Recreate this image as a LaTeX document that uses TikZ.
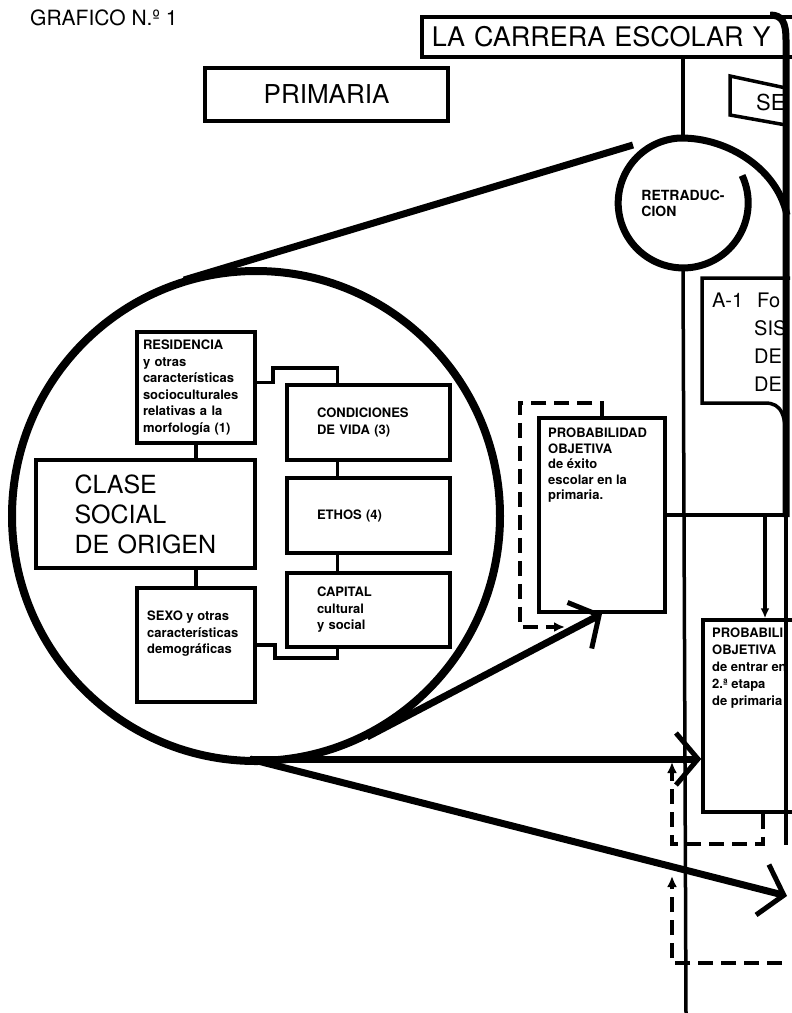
\documentclass[tikz,border=0pt]{standalone}
\usepackage{fontspec}
\setmainfont{TeX Gyre Heros}
\usetikzlibrary{arrows.meta}

\begin{document}
\begin{tikzpicture}[x=1pt,y=-1pt]
  \tikzset{caja/.style={draw, line width=3.5pt, inner sep=0pt, align=left}}
  \tikzset{texto/.style={font=\fontsize{13}{16.5}\selectfont\bfseries, align=left, inner sep=0pt}}
  \tikzset{grueso/.style={line width=7pt}}
  \tikzset{conector/.style={line width=3.5pt}}
  \tikzset{rayo/.style={line width=7pt, -{Straight Barb[length=22pt,width=52pt,line width=5pt]}}}
  \tikzset{guiones/.style={line width=3.5pt, dash pattern=on 15pt off 8pt, -{Latex[length=11pt,width=10pt]}}}
  \useasboundingbox (0,0) rectangle (792,1013);
  \clip (0,0) rectangle (792,1013);

  \node[anchor=west, inner sep=0pt, font=\fontsize{21}{24}\selectfont] (grafico) at (30,18) {GRAFICO N.º 1};
  \node[caja, minimum width=243pt, minimum height=53pt, font=\fontsize{26}{30}\selectfont] (primaria) at (326.5,94.5) {PRIMARIA};
  \node[caja, anchor=north west, minimum width=380pt, minimum height=40pt, inner xsep=10pt, text width=360pt, font=\fontsize{27}{30}\selectfont] (carrera) at (420,15) {LA CARRERA ESCOLAR Y};
  \draw[conector] (786,88) -- (730,76) -- (730,115) -- (786,125);
  \node[anchor=west, inner sep=0pt, font=\fontsize{22}{26}\selectfont] (se) at (756,102) {SE};

  \node[circle, minimum size=130pt, inner sep=0pt, align=left, font=\fontsize{14}{16}\selectfont\bfseries] (retra) at (683,203) {RETRADUC-\\CION};
  \draw[grueso] (retra.25) arc[start angle=25, end angle=-265, radius=65pt] .. controls (722,136) and (776,165) .. (787,215);
  \draw[conector] (retra.north |- carrera.south) -- (retra.north);
  \coordinate (pie) at (686,1013);
  \draw[conector] (retra.south) -- (pie);
  \draw[grueso] (770,15) .. controls (782,15) and (786,22) .. (786,40) -- (786,517);
  \draw[conector] (786,517) -- (786,845);

  \draw[conector] (790,278) -- (702,278) -- (702,403) -- (765,403) .. controls (782,403) and (786,415) .. (786,445);
  \node[anchor=north west, inner sep=0pt, align=left, font=\fontsize{20}{28}\selectfont] (aun) at (712,293) {A-1\hspace*{14pt}Fo\\\hspace*{42pt}SIS\\\hspace*{42pt}DE\\\hspace*{42pt}DE};

  \draw[line width=8pt] (256,516) ellipse [x radius=244pt, y radius=245pt];
  \draw[grueso] (184,280) -- (633,145);

  \node[caja, texto, minimum width=118pt, minimum height=111pt, text width=106pt] (resid) at (196,387.5) {RESIDENCIA\\ y otras\\ características\\ socioculturales\\ relativas a la\\ morfología (1)};
  \node[caja, minimum width=219pt, minimum height=108pt, text width=142pt, font=\fontsize{25}{30}\selectfont] (clase) at (145.5,514) {CLASE\\ SOCIAL\\ DE ORIGEN};
  \node[caja, minimum width=118pt, minimum height=114pt] (sexo) at (196,645) {};
  \node[texto, anchor=north west] (sexotxt) at (147,611) {SEXO y otras\\ características\\ demográficas};

  \node[caja, texto, minimum width=163pt, minimum height=75pt, text width=103pt] (cond) at (368.5,422.5) {CONDICIONES\\ DE VIDA (3)};
  \node[caja, texto, minimum width=163pt, minimum height=75pt, text width=103pt] (ethos) at (368.5,515.5) {ETHOS (4)};
  \node[caja, texto, minimum width=163pt, minimum height=74pt, text width=103pt] (capital) at (368.5,610) {CAPITAL\\ cultural\\ y social};

  \draw[conector] (resid.south) -- (resid.south |- clase.north);
  \draw[conector] (sexo.north |- clase.south) -- (sexo.north);
  \draw[conector] ([yshift=5pt]resid.east) -| (273,368) -| ([xshift=-31pt]cond.north);
  \draw[conector] ([xshift=-31pt]cond.south) -- ([xshift=-31pt]ethos.north);
  \draw[conector] ([xshift=-31pt]ethos.south) -- ([xshift=-31pt]capital.north);
  \draw[conector] (sexo.east) -| (275,658) -| ([xshift=-31pt]capital.south);

  \node[caja, minimum width=126pt, minimum height=194pt] (exito) at (602,515) {};
  \node[texto, anchor=north west, font=\fontsize{13}{15.5}\selectfont\bfseries] (exitotxt) at (548,428) {PROBABILIDAD\\ OBJETIVA\\ de éxito\\ escolar en la\\ primaria.};
  \node[caja, minimum width=100pt, minimum height=192pt] (entrar) at (753,716) {};
  \node[texto, anchor=north west, font=\fontsize{13}{17}\selectfont\bfseries] (entrartxt) at (712,628) {PROBABILI\\ OBJETIVA\\ de entrar en\\ 2.ª etapa\\ de primaria};

  \coordinate (borde) at (786,515);
  \coordinate (bifurca) at (765,515);
  \draw[conector] (exito.east) -- (borde);
  \draw[conector, -{Latex[length=10pt,width=9pt]}] (bifurca) -- (bifurca |- entrar.north);

  \coordinate (vuelta) at (565,627);
  \draw[guiones] (exito.north) |- (520,403) |- (vuelta);
  \draw[guiones] ([xshift=10pt]entrar.south) -- ++(0,30) -| (672,762);
  \draw[guiones] (782,963) -| (672,876);

  \coordinate (foco) at (250,759);
  \coordinate (tangente) at (367,737);
  \draw[rayo] (tangente) -- (exito.south);
  \draw[rayo] (foco) -- (entrar.west |- foco);
  \draw[rayo] (foco) -- (787,896);
\end{tikzpicture}
\end{document}
